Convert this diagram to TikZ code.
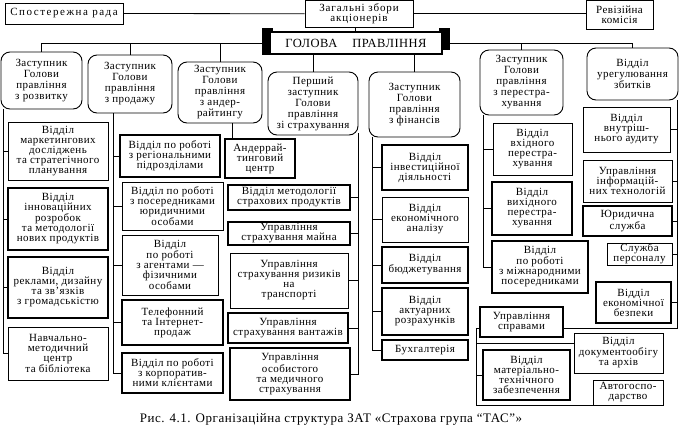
\documentclass[tikz,border=0pt]{standalone}
\usepackage{fontspec}
\setmainfont{Liberation Serif}
\newfontfamily\bxfont{Liberation Serif}[LetterSpace=4]
\newcommand{\Bx}[7][]{%
 \pgfmathsetmacro\bxw{#5-#3}\pgfmathsetmacro\bxh{#6-#4}%
 \pgfmathsetmacro\bxcx{(#3+#5)/2}\pgfmathsetmacro\bxcy{(#4+#6)/2}%
 \node[box,#1,minimum width=\bxw pt,minimum height=\bxh pt] (#2) at (\bxcx,\bxcy) {#7};}
\begin{document}
\begin{tikzpicture}[x=1pt,y=-1pt,
 box/.style={draw, line width=1pt, fill=white, align=center, inner sep=0pt, font=\bxfont\fontsize{11}{10}\selectfont},
 rbox/.style={rounded corners=9pt, line width=0.9pt, font=\bxfont\fontsize{11}{11}\selectfont},
 thk/.style={line width=1.8pt},
 ln/.style={line width=0.8pt}]
\useasboundingbox (0,0) rectangle (679,429);
% top row
\Bx[font=\bxfont\addfontfeature{LetterSpace=14}\fontsize{11}{10}\selectfont]{spost}{5}{3}{123}{24}{Спостережна рада}
\Bx[font=\bxfont\addfontfeature{LetterSpace=8}\fontsize{11}{10}\selectfont]{zagal}{305}{0.5}{413}{27}{Загальні збори\\акціонерів}
\Bx{reviz}{586}{0.5}{653}{29}{Ревізійна\\комісія}
% head
\fill (262,28) rectangle (273,55);
\fill (439,28) rectangle (450,50);
\Bx[line width=1.4pt, font=\bxfont\fontsize{12.5}{13}\selectfont]{holova}{270}{32}{442}{54}{ГОЛОВА\hspace{1.2em}ПРАВЛІННЯ}
% deputies
\Bx[rbox]{roz}{1}{52}{82}{109}{Заступник\\Голови\\правління\\з розвитку}
\Bx[rbox]{prod}{88}{55}{172}{113}{Заступник\\Голови\\правління\\з продажу}
\Bx[rbox]{und}{178}{62}{262}{123}{Заступник\\Голови\\правління\\з андер-\\райтингу}
\Bx[rbox]{persh}{268}{72}{358}{135}{Перший\\заступник\\Голови\\правління\\зі страхування}
\Bx[rbox]{fin}{369}{72}{460}{137}{Заступник\\Голови\\правління\\з фінансів}
\Bx[rbox]{pere}{480}{50}{563}{115}{Заступник\\Голови\\правління\\з перестра-\\хування}
\Bx[rbox]{zbyt}{587}{48}{678}{100}{Відділ\\урегулювання\\збитків}
% development column
\Bx{mark}{8}{122}{108}{180}{Відділ\\маркетингових\\досліджень\\та стратегічного\\планування}
\Bx[thk]{innov}{8}{188}{108}{250}{Відділ\\інноваційних\\розробок\\та методології\\нових продуктів}
\Bx[thk]{rekl}{8}{257}{108}{318}{Відділ\\реклами, дизайну\\та зв’язків\\з громадськістю}
\Bx{navch}{8}{327}{108}{380}{Навчально-\\методичний\\центр\\та бібліотека}
% sales column
\Bx[thk]{reg}{120}{135}{220}{177}{Відділ по роботі\\з регіональними\\підрозділами}
\Bx{yur}{122}{182}{223}{230}{Відділ по роботі\\з посередниками\\юридичними\\особами}
\Bx{agent}{122}{235}{218}{295}{Відділ\\по роботі\\з агентами —\\фізичними\\особами}
\Bx[thk]{tel}{122}{300}{223}{345}{Телефонний\\та Інтернет-\\продаж}
\Bx[thk]{korp}{122}{353}{223}{393}{Відділ по роботі\\з корпоратив-\\ними клієнтами}
% underwriting
\Bx[thk]{undc}{225}{139}{295}{178}{Андеррай-\\тинговий\\центр}
% first deputy column
\Bx[thk]{metod}{228}{185}{350}{210}{Відділ методології\\страхових продуктів}
\Bx[thk]{mayno}{228}{222}{350}{245}{Управління\\страхування майна}
\Bx{trans}{230}{253}{348}{308}{Управління\\страхування ризиків\\на\\транспорті}
\Bx[thk]{vant}{228}{313}{348}{343}{Управління\\страхування вантажів}
\Bx[thk]{osob}{230}{348}{350}{400}{Управління\\особистого\\та медичного\\страхування}
% finance column
\Bx[thk]{inv}{382}{145}{468}{190}{Відділ\\інвестиційної\\діяльності}
\Bx{ekon}{382}{197}{468}{242}{Відділ\\економічного\\аналізу}
\Bx[thk]{budg}{382}{247}{468}{283}{Відділ\\бюджетування}
\Bx[thk]{akt}{382}{288}{468}{335}{Відділ\\актуарних\\розрахунків}
\Bx[thk]{buh}{382}{340}{468}{360}{Бухгалтерія}
% reinsurance column
\Bx{vhid}{493}{123}{572}{175}{Відділ\\вхідного\\перестра-\\хування}
\Bx[thk]{vyhid}{492}{182}{572}{235}{Відділ\\вихідного\\перестра-\\хування}
\Bx[thk]{mizh}{492}{241}{588}{293}{Відділ\\по роботі\\з міжнародними\\посередниками}
% claims column
\Bx{audyt}{583}{107}{670}{152}{Відділ\\внутріш-\\нього аудиту}
\Bx{it}{583}{160}{672}{202}{Управління\\інформацій-\\них технологій}
\Bx[thk]{yur2}{583}{206}{672}{236}{Юридична\\служба}
\Bx{pers}{607}{243}{672}{265}{Служба\\персоналу}
\Bx[thk]{bezp}{596}{282}{671}{323}{Відділ\\економічної\\безпеки}
\Bx[thk]{sprav}{480}{307}{563}{337}{Управління\\справами}
\Bx{doc}{574}{333}{663}{373}{Відділ\\документообігу\\та архів}
\Bx[thk]{mat}{483}{350}{570}{400}{Відділ\\матеріально-\\технічного\\забезпечення}
\Bx{avto}{593}{380}{663}{405}{Автогоспо-\\дарство}
% caption
\node[font=\bxfont\fontsize{13}{14}\selectfont, inner sep=0pt] (cap) at (331,419) {Рис. 4.1. Організаційна структура ЗАТ «Страхова група “ТАС”»};
% connectors
\begin{scope}[ln]
\draw (spost.east) -- (zagal.west);
\draw (zagal.east) -- (zagal.east -| reviz.west);
\draw ([xshift=-4pt]zagal.south) -- ([xshift=-4pt]zagal.south |- holova.north);
\draw (holova.west) -| (roz.north);
\draw (prod.north) -- (prod.north |- holova.west);
\draw (und.north) -- (und.north |- holova.west);
\draw (holova.east) -| (zbyt.north);
\draw (pere.north) -- (pere.north |- holova.east);
\draw (persh.north) -- (persh.north |- holova.south);
\draw (fin.north) -- (fin.north |- holova.south);
% development
\coordinate (rb) at (3,109);
\draw (rb) |- (navch.west);
\foreach \n in {mark,innov,rekl} \draw (\n.west) -- (\n.west -| rb);
% sales
\coordinate (pb) at (113,113);
\draw (pb) |- (korp.west);
\foreach \n in {reg,yur,agent,tel} \draw (\n.west) -- (\n.west -| pb);
% underwriting
\draw ([xshift=-28pt]undc.north) -- ([xshift=-28pt]undc.north |- und.south);
% first deputy
\coordinate (fb) at (358,133);
\draw (fb) |- (osob.east);
\foreach \n in {metod,mayno,trans,vant} \draw (\n.east) -- (\n.east -| fb);
% finance
\coordinate (nb) at (372,137);
\draw (nb) |- (buh.west);
\foreach \n in {inv,ekon,budg,akt} \draw (\n.west) -- (\n.west -| nb);
% reinsurance
\coordinate (sb) at (483,115);
\draw (sb) |- (mizh.west);
\foreach \n in {vhid,vyhid} \draw (\n.west) -- (\n.west -| sb);
% claims
\coordinate (cb) at (677,100);
\draw (cb) |- ([yshift=-6pt]sprav.east);
\foreach \n in {audyt,it,yur2,pers,bezp} \draw (\n.east) -- (\n.east -| cb);
% administration
\coordinate (ab) at (476,328);
\draw ([yshift=-6pt]sprav.west) -- (ab) -- (ab |- avto.south) -- (avto.south west);
\draw (ab |- 0,343) -- (doc.west |- 0,343);
\draw (mat.west) -- (mat.west -| ab);
\end{scope}
\end{tikzpicture}
\end{document}
